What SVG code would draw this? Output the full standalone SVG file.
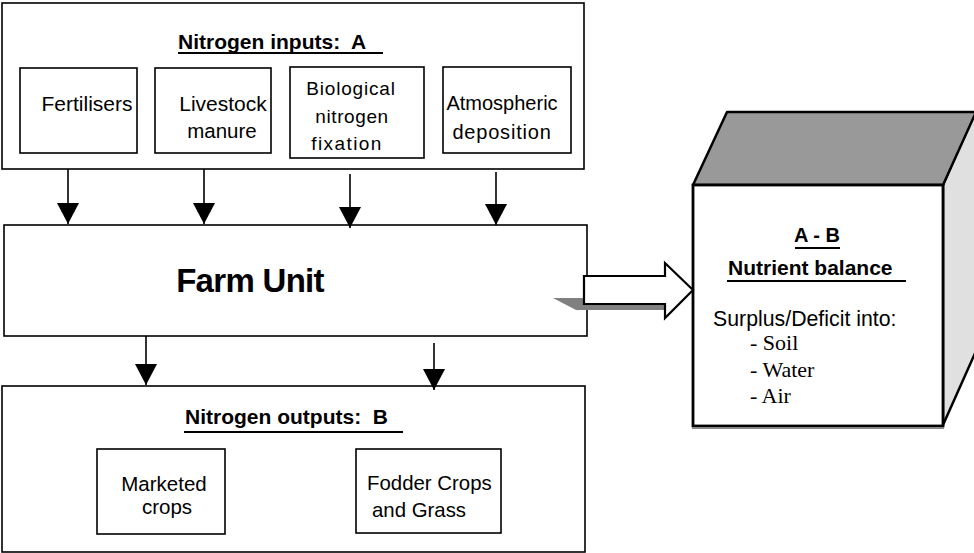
<svg xmlns="http://www.w3.org/2000/svg" width="974" height="553" viewBox="0 0 974 553">
<style>
  .box { fill: #ffffff; stroke: #000; stroke-width: 1.6; }
  .t { font-family: "Liberation Sans", Arial, sans-serif; fill: #000; }
  .b { font-weight: bold; }
  .serif { font-family: "Liberation Serif", "Times New Roman", serif; fill: #000; }
  .ul { stroke: #000; stroke-width: 2; }
  .conn { stroke: #000; stroke-width: 1.6; fill: none; marker-end: url(#ah); }
</style>
<defs>
  <marker id="ah" markerUnits="userSpaceOnUse" markerWidth="22" markerHeight="22" viewBox="0 0 21 22" refX="21" refY="11" orient="auto">
    <path d="M0,0 L21,11 L0,22 z" fill="#000"/>
  </marker>
</defs>
<rect width="974" height="553" fill="#fff"/>

<g id="inputs">
  <rect class="box" x="2" y="3" width="582" height="166"/>
  <text class="t b" x="178" y="49" font-size="21">Nitrogen inputs:&#160; A</text>
  <line class="ul" x1="178" y1="53" x2="383" y2="53"/>
</g>
<g id="fertilisers">
  <rect class="box" x="20" y="68" width="117" height="85"/>
  <text class="t" x="87" y="111" font-size="21" text-anchor="middle">Fertilisers</text>
</g>
<g id="livestock">
  <rect class="box" x="155" y="68" width="116" height="85"/>
  <text class="t" x="223" y="111" font-size="21" text-anchor="middle">Livestock</text>
  <text class="t" x="222" y="138" font-size="20.5" text-anchor="middle">manure</text>
</g>
<g id="biological">
  <rect class="box" x="290" y="67" width="134" height="91"/>
  <text class="t" x="351" y="95" font-size="19" letter-spacing="0.8" text-anchor="middle">Biological</text>
  <text class="t" x="352" y="123" font-size="19" letter-spacing="0.6" text-anchor="middle">nitrogen</text>
  <text class="t" x="347" y="150" font-size="19" letter-spacing="1.4" text-anchor="middle">fixation</text>
</g>
<g id="atmospheric">
  <rect class="box" x="443" y="67" width="128" height="86"/>
  <text class="t" x="502" y="110" font-size="20" text-anchor="middle">Atmospheric</text>
  <text class="t" x="502" y="139" font-size="20" letter-spacing="0.8" text-anchor="middle">deposition</text>
</g>

<g id="farm-unit">
  <rect class="box" x="4" y="225" width="583" height="111"/>
  <text class="t b" x="250" y="292" font-size="33" letter-spacing="-0.7" text-anchor="middle">Farm Unit</text>
</g>

<g id="outputs">
  <rect class="box" x="2" y="386" width="583" height="166"/>
  <text class="t b" x="185" y="424" font-size="21">Nitrogen outputs:&#160; B</text>
  <line class="ul" x1="184" y1="432" x2="403" y2="432"/>
</g>
<g id="marketed">
  <rect class="box" x="97" y="449" width="128" height="85"/>
  <text class="t" x="164" y="491" font-size="20.5" text-anchor="middle">Marketed</text>
  <text class="t" x="167" y="514" font-size="20.5" text-anchor="middle">crops</text>
</g>
<g id="fodder">
  <rect class="box" x="356" y="449" width="145" height="84"/>
  <text class="t" x="367" y="490" font-size="20.4">Fodder Crops</text>
  <text class="t" x="372" y="517" font-size="20.4">and Grass</text>
</g>

<g id="balance">
  <polygon points="980,100 980,342 943,425 943,185" fill="#e0e0e0" stroke="#000" stroke-width="2.5" stroke-linejoin="round"/>
  <polygon points="693,185 727,112 980,112 976,112 943,185" fill="#999999" stroke="#000" stroke-width="2.5" stroke-linejoin="round"/>
  <rect x="693" y="185" width="250" height="241" fill="#fff" stroke="#000" stroke-width="2.8"/>
  <line x1="692" y1="428" x2="944" y2="428" stroke="#888" stroke-width="2"/>
  <text class="t b" x="817" y="242" font-size="20" text-anchor="middle">A - B</text>
  <line class="ul" x1="795" y1="248" x2="840" y2="248"/>
  <text class="t b" x="728" y="275" font-size="21">Nutrient balance</text>
  <line class="ul" x1="727" y1="281" x2="906" y2="281"/>
  <text class="t" x="713" y="326" font-size="21.3">Surplus/Deficit into:</text>
  <text class="serif" x="750" y="350" font-size="22">- Soil</text>
  <text class="serif" x="750" y="377" font-size="22">- Water</text>
  <text class="serif" x="750" y="403" font-size="22">- Air</text>
</g>

<g id="connectors">
  <line class="conn" x1="68" y1="169" x2="68" y2="224"/>
  <line class="conn" x1="204" y1="169" x2="204" y2="224"/>
  <line class="conn" x1="350" y1="174" x2="350" y2="228"/>
  <line class="conn" x1="496" y1="172" x2="496" y2="225"/>
  <line class="conn" x1="146" y1="336" x2="146" y2="385"/>
  <line class="conn" x1="434" y1="343" x2="434" y2="390"/>
  <polygon points="553,298 665,298 665,310 576,310" fill="#808080"/>
  <polygon points="584,276 665,276 665,263 693,290 665,318 665,304 584,304" fill="#fff" stroke="#000" stroke-width="2.2" stroke-linejoin="miter"/>
</g>
</svg>
